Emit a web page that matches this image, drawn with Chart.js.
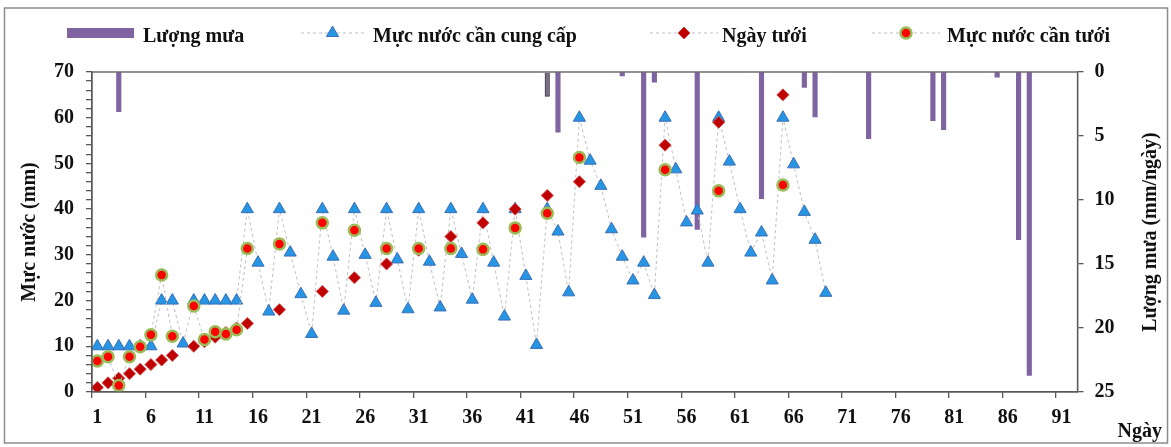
<!DOCTYPE html>
<html>
<head>
<meta charset="utf-8">
<script src="https://cdn.jsdelivr.net/npm/chart.js@4/dist/chart.umd.min.js"></script>
<style>
  html, body { margin: 0; padding: 0; background: #fff; }
  canvas { display: block; }
</style>
</head>
<body>
<canvas id="water-chart" width="1171" height="447"></canvas>
<script>
const CTX = document.getElementById('water-chart');

// ngay 1..92 tren truc hoanh
const days = Array.from({ length: 92 }, (_, i) => String(i + 1));

// luong mua (mm/ngay)
const rainDays = [3, 43, 44, 50, 52, 53, 57, 63, 67, 68, 73, 79, 80, 85, 87, 88];
const rainAmounts = [3.1, 1.9, 4.7, 0.3, 12.9, 0.8, 12.3, 9.9, 1.2, 3.5, 5.2, 3.8, 4.5, 0.4, 13.1, 23.7];

// muc nuoc can cung cap, ngay 1..69
const supplyLevels = [10, 10, 10, 10, 10, 10, 20, 20, 10.6, 20,
  20, 20, 20, 20, 40, 28.3, 17.6, 40, 30.5, 21.4,
  12.7, 40, 29.6, 17.8, 40, 30, 19.5, 40, 29, 18.1,
  40, 28.5, 18.5, 40, 30.2, 20.2, 40, 28.3, 16.5, 40,
  25.4, 10.3, 40, 35.1, 21.8, 60, 50.6, 45.1, 35.6, 29.6,
  24.4, 28.3, 21.2, 60, 48.7, 37.1, 39.7, 28.3, 60, 50.4,
  40, 30.5, 34.9, 24.4, 60, 49.8, 39.4, 33.3, 21.7];

// ngay tuoi
const irrigationDays = [1, 2, 3, 4, 5, 6, 7, 8, 10, 11, 12, 13, 14, 15, 18, 22, 25, 28, 31, 34, 37, 40, 43, 46, 54, 59, 65];
// muc nuoc can tuoi
const irrigationNeeds = [6.8, 7.7, 1.4, 7.7, 9.9, 12.5, 25.6, 12.2, 18.8, 11.5, 13.2, 12.7, 13.6, 31.4,
  32.4, 37, 35.4, 31.4, 31.4, 31.4, 31.2, 35.9, 39.1, 51.3, 48.6, 44, 45.3];

const leftTitle = 'Mực nước (mm)';
const rightTitle = 'Lượng mưa (mm/ngày)';
const bottomTitle = 'Ngày';

const FONT = '"Liberation Serif", "Times New Roman", serif';
const AXIS = '#595959';
const DASH = '#BFBFBF';
const RAIN = '#8064A2';
const TEXT = '#111';

function toSeries(dayList, values) {
  const out = days.map(() => null);
  dayList.forEach((d, i) => { out[d - 1] = values[i]; });
  return out;
}

const rainSeries = toSeries(rainDays, rainAmounts);
const supplySeries = days.map((d, i) => (i < supplyLevels.length ? supplyLevels[i] : null));
const daySeries = toSeries(irrigationDays, irrigationDays);
const needSeries = toSeries(irrigationDays, irrigationNeeds);

// legend, khung, tieu de phai va "Ngày"
const decor = {
  id: 'decor',
  beforeDraw(chart) {
    const c = chart.ctx;
    c.save();
    c.fillStyle = '#fff';
    c.fillRect(0, 0, chart.width, chart.height);
    c.restore();
  },
  afterDraw(chart) {
    const c = chart.ctx;
    const a = chart.chartArea;
    c.save();
    c.strokeStyle = '#8C8C8C';
    c.lineWidth = 1.5;
    c.strokeRect(4.5, 8, 1163, 435);
    c.strokeStyle = AXIS;
    c.lineWidth = 1.3;
    c.strokeRect(a.left, a.top, a.right - a.left, a.bottom - a.top);

    const slots = [
      { x1: 67, x2: 134, tx: 143 },
      { x1: 301, x2: 364, tx: 373 },
      { x1: 650, x2: 718, tx: 722 },
      { x1: 872, x2: 940, tx: 947 }
    ];
    const ly = 33;
    c.font = 'bold 20px ' + FONT;
    chart.data.datasets.forEach((d, i) => {
      const s = slots[i];
      if (d.type === 'bar') {
        c.fillStyle = RAIN;
        c.fillRect(s.x1, ly - 5, s.x2 - s.x1, 10);
      } else {
        c.strokeStyle = DASH;
        c.lineWidth = 1;
        c.setLineDash([3, 3]);
        c.beginPath();
        c.moveTo(s.x1, ly);
        c.lineTo(s.x2, ly);
        c.stroke();
        c.setLineDash([]);
        c.fillStyle = d.pointBackgroundColor;
        c.strokeStyle = d.pointBorderColor;
        c.lineWidth = d.pointBorderWidth;
        Chart.helpers.drawPoint(c, {
          pointStyle: d.pointStyle, radius: d.pointRadius, rotation: 0, borderWidth: d.pointBorderWidth
        }, (s.x1 + s.x2) / 2, ly);
      }
      c.fillStyle = TEXT;
      c.textAlign = 'left';
      c.textBaseline = 'alphabetic';
      c.fillText(d.label, s.tx, 41.7);
    });

    c.textAlign = 'right';
    c.fillText(bottomTitle, 1162, 437);

    c.translate(1151, (a.top + a.bottom) / 2);
    c.rotate(-Math.PI / 2);
    c.textAlign = 'center';
    c.textBaseline = 'middle';
    c.fillText(rightTitle, 0, 0);
    c.restore();
  }
};

const tickFont = { family: FONT, size: 20, weight: 'bold' };

new Chart(CTX, {
  data: {
    labels: days,
    datasets: [{
      type: 'bar',
      label: 'Lượng mưa',
      data: rainSeries,
      yAxisID: 'y1',
      backgroundColor: (ctx) => (ctx.dataIndex === 42 ? '#7C6E8C' : RAIN),
      borderColor: '#3A3A3A',
      borderWidth: (ctx) => (ctx.dataIndex === 42 ? 1 : 0),
      barThickness: 4.5,
      order: 4
    }, {
      type: 'line',
      label: 'Mực nước cần cung cấp',
      data: supplySeries,
      yAxisID: 'y',
      borderColor: DASH,
      borderWidth: 1,
      borderDash: [3, 3],
      pointStyle: 'triangle',
      pointRadius: 7,
      pointBackgroundColor: '#2595E4',
      pointBorderColor: '#3B6FB6',
      pointBorderWidth: 1,
      fill: false,
      spanGaps: false,
      order: 3
    }, {
      type: 'line',
      label: 'Ngày tưới',
      data: daySeries,
      yAxisID: 'y',
      borderColor: DASH,
      borderWidth: 1,
      borderDash: [3, 3],
      pointStyle: 'rectRot',
      pointRadius: 6,
      pointBackgroundColor: '#C00000',
      pointBorderColor: '#D04848',
      pointBorderWidth: 1,
      fill: false,
      spanGaps: false,
      order: 2
    }, {
      type: 'line',
      label: 'Mực nước cần tưới',
      data: needSeries,
      yAxisID: 'y',
      borderColor: DASH,
      borderWidth: 1,
      borderDash: [3, 3],
      pointStyle: 'circle',
      pointRadius: 5.5,
      pointBackgroundColor: '#FF0000',
      pointBorderColor: '#9BBB59',
      pointBorderWidth: 2.5,
      fill: false,
      spanGaps: false,
      order: 1
    }]
  },
  options: {
    responsive: false,
    animation: false,
    layout: { padding: { left: 8, right: 8, top: 72, bottom: 0 } },
    plugins: {
      legend: { display: false },
      tooltip: { enabled: false }
    },
    scales: {
      x: {
        type: 'category',
        offset: true,
        grid: {
          drawOnChartArea: false,
          offset: true,
          tickLength: 6,
          lineWidth: 1.3,
          color: (ctx) => (ctx.index % 5 === 0 ? AXIS : 'rgba(0,0,0,0)')
        },
        border: { color: AXIS, width: 1.3 },
        ticks: {
          autoSkip: false,
          maxRotation: 0,
          padding: 8,
          color: TEXT,
          font: tickFont,
          callback: (v, i) => (i % 5 === 0 ? days[i] : '')
        },
        afterFit: (s) => { s.height = 55; }
      },
      y: {
        position: 'left',
        min: 0,
        max: 70,
        grid: { drawOnChartArea: false, tickLength: 6, lineWidth: 1.3, color: AXIS },
        border: { color: AXIS, width: 1.3 },
        ticks: {
          stepSize: 2,
          autoSkip: false,
          padding: 12,
          color: TEXT,
          font: tickFont,
          callback: (v) => (v % 10 === 0 ? v : '')
        },
        title: { display: true, text: leftTitle, color: TEXT, font: tickFont, padding: { top: 10, bottom: 0 } },
        afterFit: (s) => { s.width = 84; }
      },
      y1: {
        position: 'right',
        reverse: true,
        min: 0,
        max: 25,
        grid: { drawOnChartArea: false, tickLength: 6, lineWidth: 1.3, color: AXIS },
        border: { color: AXIS, width: 1.3 },
        ticks: { stepSize: 5, padding: 11, color: TEXT, font: tickFont },
        afterFit: (s) => { s.width = 85.5; }
      }
    }
  },
  plugins: [decor]
});
</script>
</body>
</html>
